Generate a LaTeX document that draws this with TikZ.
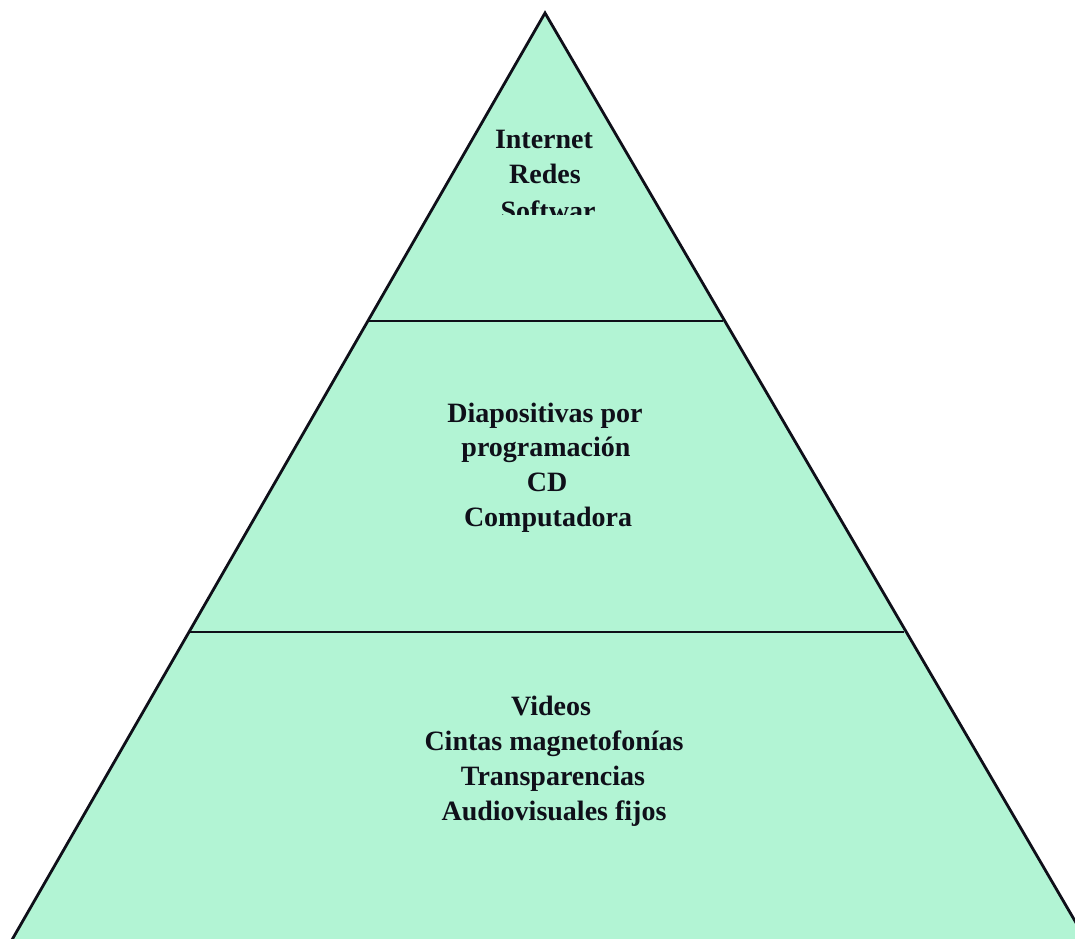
\documentclass[tikz,border=0pt]{standalone}
\usepackage{fontspec}
\setmainfont{Liberation Serif}
\definecolor{mint}{RGB}{178,244,212}
\definecolor{inkc}{RGB}{15,15,25}
\tikzset{
  lbl/.style={anchor=base, inner sep=0pt, font=\fontsize{28}{35}\selectfont\bfseries, text=inkc},
  edge/.style={draw=inkc, line width=2.8pt, line join=miter},
  divider/.style={draw=inkc, line width=2.5pt}
}
\begin{document}
\begin{tikzpicture}[x=1pt,y=-1pt]
\useasboundingbox (0,0) rectangle (1075,938);
\clip (0,0) rectangle (1075,938);
\fill[white] (0,0) rectangle (1075,938);
% pyramid
\coordinate (apex) at (545,13);
\coordinate (bl) at (9,945);
\coordinate (br) at (1089,945);
\fill[mint] (apex) -- (bl) -- (br) -- cycle;
\draw[edge] (bl) -- (apex) -- (br);
% dividers
\coordinate (d1l) at (368,321);
\coordinate (d1r) at (723,321);
\coordinate (d2l) at (189,632);
\coordinate (d2r) at (904,632);
\draw[divider] (d1l) -- (d1r);
\draw[divider] (d2l) -- (d2r);
% top tier
\node[lbl] (t1) at (544,148) {Internet};
\node[lbl] (t2) at (545,183) {Redes};
\begin{scope}
\clip (0,0) rectangle (1075,214);
\node[lbl] (t3) at (548,220) {Softwar};
\end{scope}
% middle tier
\node[lbl] (m1) at (545,422) {Diapositivas por};
\node[lbl] (m2) at (546,456) {programación};
\node[lbl] (m3) at (547,491) {CD};
\node[lbl] (m4) at (548,526) {Computadora};
% bottom tier
\node[lbl] (b1) at (551,715) {Videos};
\node[lbl] (b2) at (554,750) {Cintas magnetofonías};
\node[lbl] (b3) at (553,785) {Transparencias};
\node[lbl] (b4) at (554,820) {Audiovisuales fijos};
\end{tikzpicture}
\end{document}
